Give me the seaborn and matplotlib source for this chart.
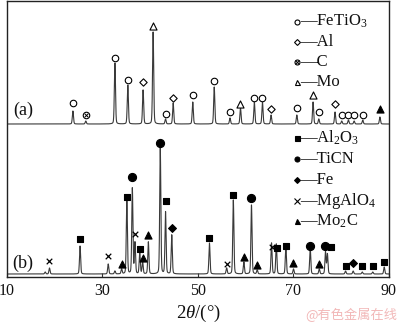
import numpy as np
import pandas as pd
import matplotlib
matplotlib.use("Agg")
import matplotlib.pyplot as plt
import seaborn as sns

# ---------------- data ----------------
# pattern (a): peak positions (2theta, deg) and heights (arbitrary units)
peaks_a_pos = [23.8, 26.5, 32.6, 35.3, 38.5, 40.6, 43.2, 44.8, 48.9, 53.4, 56.7, 58.9,
               61.8, 63.5, 65.3, 70.7, 74.1, 75.3, 78.7, 80.1, 81.5, 82.7, 84.5, 88.1]
peaks_a_int = [13, 3, 61, 39, 34, 92, 5, 21, 22, 37, 6, 16,
               22, 22, 9, 9, 22, 5, 12, 3, 4, 3, 4, 7]
# pattern (b)
peaks_b_pos = [18.0, 18.9, 25.3, 31.2, 32.6, 34.0, 35.1, 36.25, 36.8, 37.8, 38.4, 39.6,
               42.1, 43.2, 44.5, 52.4, 56.0, 57.4, 59.6, 61.2, 62.4, 65.4, 66.4, 68.4,
               70.0, 73.5, 75.4, 76.7, 77.1, 80.9, 82.5, 84.4, 86.6, 89.0]
peaks_b_int = [2, 6, 28, 10, 3, 5, 74, 86, 31, 21, 12, 32,
               126, 62, 39, 31, 6, 74, 12, 69, 4, 31, 30, 27,
               5, 26, 5, 22, 20, 3, 3, 2, 2, 7]

# phase markers: angle, height of marker, phase
mark_a_pos = [23.8, 26.5, 32.6, 35.3, 38.5, 40.6, 43.2, 44.8, 48.9, 53.4, 56.7, 58.9,
              61.8, 63.5, 65.3, 70.7, 74.1, 75.3, 78.7, 80.1, 81.5, 82.7, 84.5, 88.1]
mark_a_h = [21, 9, 66, 44, 42, 98, 10, 26, 29, 43, 12, 20,
            26, 26, 15, 16, 29, 12, 20, 9, 9, 9, 9, 15]
mark_a_phase = ["FeTiO3", "C", "FeTiO3", "FeTiO3", "Al", "Mo", "FeTiO3", "Al", "FeTiO3",
                "FeTiO3", "FeTiO3", "Mo", "FeTiO3", "FeTiO3", "Al", "FeTiO3", "Mo",
                "FeTiO3", "Al", "FeTiO3", "FeTiO3", "FeTiO3", "FeTiO3", "Mo2C"]

mark_b_pos = [18.9, 25.3, 31.2, 34.0, 35.1, 36.25, 36.8, 37.8, 38.4, 39.6, 42.1, 43.2,
              44.5, 52.4, 56.0, 57.4, 59.6, 61.2, 62.4, 65.4, 66.6, 68.4, 70.0, 73.5,
              75.4, 76.6, 77.9, 80.9, 82.5, 84.4, 86.6, 89.0]
mark_b_h = [13, 35, 18, 10, 77, 97, 40, 25, 16, 39, 131, 73,
            46, 36, 10, 79, 17, 76, 9, 27, 26, 28, 11, 28,
            10, 28, 27, 8, 11, 8, 8, 12]
mark_b_phase = ["MgAlO4", "Al2O3", "MgAlO4", "Mo2C", "Al2O3", "TiCN", "MgAlO4", "Al2O3",
                "Mo2C", "Mo2C", "TiCN", "Al2O3", "Fe", "Al2O3", "MgAlO4", "Al2O3", "Mo2C",
                "TiCN", "Mo2C", "MgAlO4", "Al2O3", "Al2O3", "Mo2C", "TiCN", "Mo2C", "TiCN",
                "Al2O3", "Al2O3", "Fe", "Al2O3", "Al2O3", "Al2O3"]

legend_a = ["FeTiO3", "Al", "C", "Mo"]
legend_b = ["Al2O3", "TiCN", "Fe", "MgAlO4", "Mo2C"]
legend_text = {"FeTiO3": "FeTiO$_3$", "Al": "Al", "C": "C", "Mo": "Mo",
               "Al2O3": "Al$_2$O$_3$", "TiCN": "TiCN", "Fe": "Fe",
               "MgAlO4": "MgAlO$_4$", "Mo2C": "Mo$_2$C"}
xticks = [10, 30, 50, 70, 90]

# ---------------- styles ----------------
offset_a = 153
offset_b = 3
styles = {
    "FeTiO3": dict(marker="o", fc="white", s=22),
    "Al": dict(marker="D", fc="white", s=14),
    "C": dict(marker="o", fc="white", s=22),
    "Mo": dict(marker="^", fc="white", s=26),
    "Mo2C": dict(marker="^", fc="black", s=26),
    "Al2O3": dict(marker="s", fc="black", s=20),
    "TiCN": dict(marker="o", fc="black", s=34),
    "Fe": dict(marker="D", fc="black", s=16),
    "MgAlO4": dict(marker="x", fc="black", s=16),
}

sns.set_theme(style="white")
plt.rcParams["font.family"] = ["Liberation Serif", "DejaVu Serif"]
plt.rcParams["mathtext.fontset"] = "custom"
plt.rcParams["mathtext.rm"] = "Liberation Serif"
plt.rcParams["mathtext.it"] = "Liberation Serif:italic"


def profile(x, pos, amp):
    y = np.zeros_like(x)
    for p, a in zip(pos, amp):
        g = np.exp(-0.5 * ((x - p) / 0.12) ** 2)
        l = 1.0 / (1.0 + ((x - p) / 0.13) ** 2)
        y += a * (0.75 * g + 0.25 * l)
    return y


x = np.arange(10.0, 90.0001, 0.02)
df = pd.DataFrame({
    "two_theta": np.concatenate([x, x]),
    "intensity": np.concatenate([profile(x, peaks_a_pos, peaks_a_int) + offset_a,
                                 profile(x, peaks_b_pos, peaks_b_int) + offset_b]),
    "sample": ["a"] * len(x) + ["b"] * len(x),
})

fig = plt.figure(figsize=(4.0, 3.23), dpi=100)
ax = fig.add_axes([7 / 400, (323 - 277) / 323, 382 / 400, 276 / 323])

sns.lineplot(data=df, x="two_theta", y="intensity", units="sample", estimator=None,
             color="#3a3a3a", linewidth=0.8, ax=ax, sort=False)

for pos, hs, phases, off in [(mark_a_pos, mark_a_h, mark_a_phase, offset_a),
                             (mark_b_pos, mark_b_h, mark_b_phase, offset_b)]:
    mdf = pd.DataFrame({"x": pos, "y": np.array(hs) + off, "phase": phases})
    for ph, sub in mdf.groupby("phase"):
        st = styles[ph]
        if st["marker"] == "x":
            sns.scatterplot(data=sub, x="x", y="y", marker="x", s=st["s"],
                            color="black", linewidth=0.9, ax=ax, zorder=5)
        else:
            sns.scatterplot(data=sub, x="x", y="y", marker=st["marker"], s=st["s"],
                            facecolor=st["fc"], edgecolor="black", linewidth=0.8,
                            ax=ax, zorder=5)
        if ph == "C":  # circle with a cross inside
            sns.scatterplot(data=sub, x="x", y="y", marker="x", s=7,
                            color="black", linewidth=0.7, ax=ax, zorder=6)

# legends (marker — name)
def draw_legend(names, ys):
    for nm, yy in zip(names, ys):
        st = styles[nm]
        mk = st["marker"]
        if mk == "x":
            ax.plot([0.759], [yy], marker="x", ms=4.5, color="black",
                    mew=0.8, ls="none", transform=ax.transAxes)
        else:
            ax.plot([0.759], [yy], marker=mk, ms=3.6 if mk != "D" else 3.0,
                    mfc=st["fc"], mec="black", mew=0.8, ls="none", transform=ax.transAxes)
        if nm == "C":
            ax.plot([0.759], [yy], marker="x", ms=2.2, color="black",
                    mew=0.7, ls="none", transform=ax.transAxes)
        ax.text(0.767, yy, "\u2014" + legend_text[nm], transform=ax.transAxes,
                fontsize=12, va="center", ha="left", color="#111111")

draw_legend(legend_a, [0.925, 0.853, 0.78, 0.708])
draw_legend(legend_b, [0.504, 0.428, 0.352, 0.277, 0.202])

ax.text(0.042, 0.605, "(a)", transform=ax.transAxes, fontsize=13, ha="center",
        va="center", color="#111111")
ax.text(0.042, 0.05, "(b)", transform=ax.transAxes, fontsize=13, ha="center",
        va="center", color="#111111")

ax.set_xlim(10, 90)
ax.set_ylim(0, 276)
ax.set_xticks(xticks)
ax.set_xticklabels([str(t) for t in xticks], fontsize=11.5, color="#111111")
ax.set_yticks([])
ax.tick_params(axis="x", direction="in", length=3, width=0.8, pad=4, bottom=True,
               color="#333333")
ax.set_xlabel(r"2$\theta$/(°)", fontsize=13.5, labelpad=3, color="#111111")
ax.set_ylabel("")
for sp in ax.spines.values():
    sp.set_color("#222222")
    sp.set_linewidth(1.0)

fig.text(0.993, 0.025, "@有色金属在线", fontsize=9.5, color="#f2b8b8", ha="right",
         va="center", family=["Noto Sans CJK SC", "DejaVu Sans"])

fig.savefig("out.png", dpi=100)
